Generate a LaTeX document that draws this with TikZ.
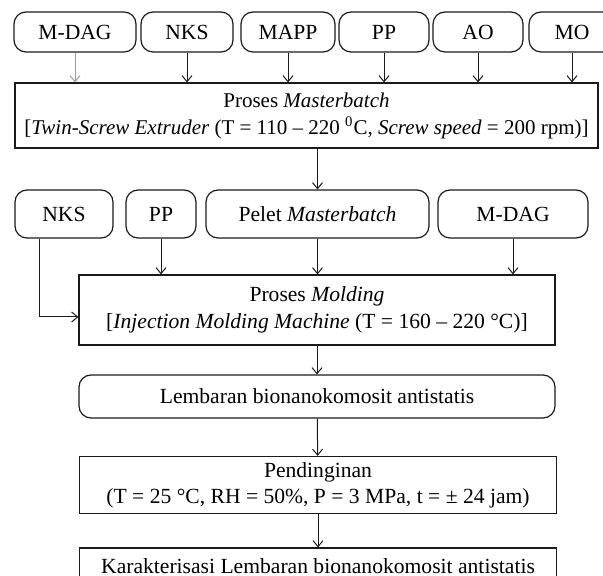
\documentclass[tikz,border=0pt]{standalone}
\usepackage{fontspec}
\setmainfont{Liberation Serif}
\usetikzlibrary{arrows.meta,positioning}
\definecolor{ln}{HTML}{1A1A1A}
\definecolor{lt}{HTML}{9A9A9A}

\begin{document}
\begin{tikzpicture}[x=0.5pt, y=-0.5pt,
    font=\fontsize{10.8}{11.5}\selectfont,
    pill/.style={draw=ln, line width=0.6pt, rounded corners=6pt, minimum height=20pt, inner sep=1pt},
    procbox/.style={draw=ln, line width=0.6pt, align=center, inner sep=1pt},
    flow/.style={draw=ln, line width=0.5pt, -{Straight Barb[length=3pt, width=5pt]}}]
        \useasboundingbox (0,0) rectangle (603,576);
        \clip (0,0) rectangle (603,576);
        % bahan masterbatch
        \node[pill, minimum width=61pt]   (mdag) at (75,32)    {M-DAG};
        \node[pill, minimum width=46pt]   (nks)  at (187,32)   {NKS};
        \node[pill, minimum width=47pt]   (mapp) at (288,32)   {MAPP};
        \node[pill, minimum width=45pt]   (pp)   at (384,32)   {PP};
        \node[pill, minimum width=45pt]   (ao)   at (478,32)   {AO};
        \node[pill, minimum width=43pt]   (mo)   at (572,32)   {MO};
        \node[procbox, minimum width=291.5pt, minimum height=32.5pt,
              font=\fontsize{10.5}{11.5}\selectfont] (masterbatch) at (306.5,115.5)
          {Proses \textit{Masterbatch}\\[2pt]
           {[}\textit{Twin-Screw Extruder} (T = 110 -- 220 \textsuperscript{0}C, \textit{Screw speed} = 200 rpm)]};
        \draw[flow, draw=lt] (mdag.south) -- (mdag.south |- masterbatch.north);
        \foreach \n in {nks,mapp,pp,ao,mo}
          \draw[flow] (\n.south) -- (\n.south |- masterbatch.north);
        % bahan molding
        \node[pill, minimum width=49pt, minimum height=24pt]    (nksb)  at (64,214)    {NKS};
        \node[pill, minimum width=35pt, minimum height=24pt]    (ppb)   at (161,214)   {PP};
        \node[pill, minimum width=111.5pt, minimum height=24pt] (pelet) at (317.5,214) {Pelet \textit{Masterbatch}};
        \node[pill, minimum width=75pt, minimum height=24pt]    (mdagb) at (513,214)   {M-DAG};
        \draw[flow] (masterbatch.south -| pelet) -- (pelet.north);
        \node[procbox, minimum width=238pt, minimum height=35pt] (molding) at (317,310)
          {Proses \textit{Molding}\\[2pt]
           {[}\textit{Injection Molding Machine} (T = 160 -- 220 °C)]};
        \foreach \n in {ppb,pelet,mdagb}
          \draw[flow] (\n.south) -- (\n.south |- molding.north);
        \draw[flow] ([xshift=-12.5pt]nksb.south) |- ([yshift=-3.5pt]molding.west);
        % produk
        \node[pill, minimum width=238pt, minimum height=21.5pt] (lembaran) at (317,396.5)
          {Lembaran bionanokomosit antistatis};
        \node[procbox, minimum width=238.5pt, minimum height=28.5pt] (pendinginan) at (318,485)
          {Pendinginan\\[1.5pt]
           (T = 25 °C, RH = 50\%, P = 3 MPa, t = ± 24 jam)};
        \node[procbox, minimum width=238.5pt, minimum height=18pt] (karakterisasi) at (318,566)
          {Karakterisasi Lembaran bionanokomosit antistatis};
        \draw[flow] (molding) -- (lembaran);
        \draw[flow] (lembaran) -- (pendinginan);
        \draw[flow] (pendinginan) -- (karakterisasi);
\end{tikzpicture}
\end{document}
